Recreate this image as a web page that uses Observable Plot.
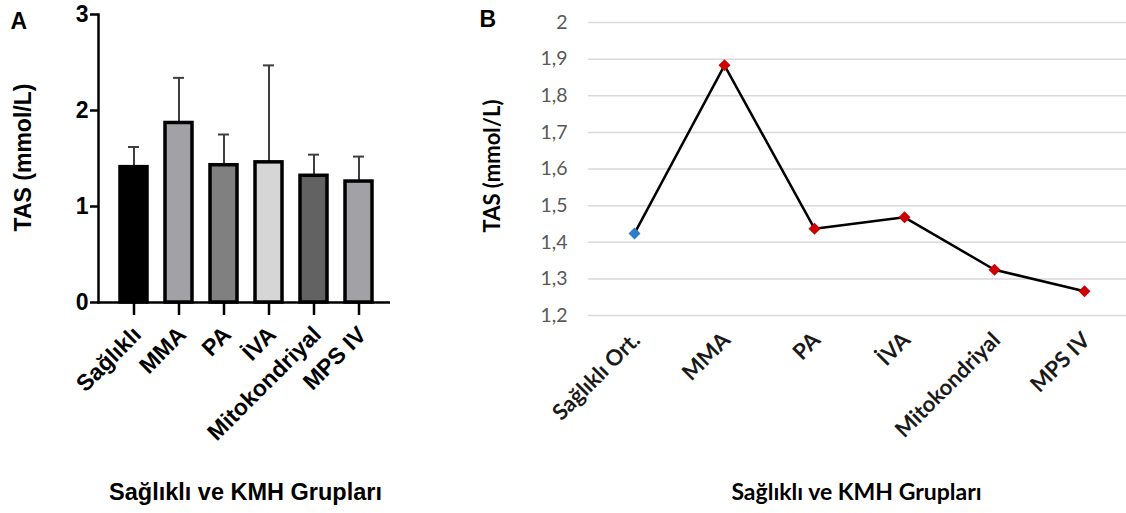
<!DOCTYPE html>
<html>
<head>
<meta charset="utf-8">
<script src="https://cdn.jsdelivr.net/npm/d3@7"></script>
<script src="https://cdn.jsdelivr.net/npm/@observablehq/plot@0.6"></script>
<style>
  html, body { margin: 0; padding: 0; background: #fff; }
  #wrap { display: flex; flex-direction: row; width: 1126px; height: 513px; }
  #wrap svg { display: block; }
</style>
</head>
<body>
<div id="wrap"></div>
<script>
// ---- Data (panel A: bar chart with upper error bars) ----
const categoriesA = ["Sağlıklı", "MMA", "PA", "İVA", "Mitokondriyal", "MPS IV"];
const barMeans = [1.41, 1.87, 1.43, 1.46, 1.32, 1.26];
const barUpper = [1.62, 2.34, 1.75, 2.47, 1.54, 1.52];
const yTicksA = [0, 1, 2, 3];

// ---- Data (panel B: line chart) ----
const categoriesB = ["Sağlıklı Ort.", "MMA", "PA", "İVA", "Mitokondriyal", "MPS IV"];
const lineMeans = [1.424, 1.883, 1.437, 1.468, 1.325, 1.266];
const yTicksB = [1.2, 1.3, 1.4, 1.5, 1.6, 1.7, 1.8, 1.9, 2];

// ---- Text ----
const yLabel = "TAS (mmol/L)";
const xTitle = "Sağlıklı ve KMH Grupları";

// ---- Styles ----
const barColors = ["#000000", "#a2a2a6", "#808080", "#d6d6d6", "#626262", "#a2a2a6"];
const healthyColor = "#2f7fc8";
const kmhColor = "#cc0000";

const tableA = categoriesA.map((c, i) => ({cat: c, mean: barMeans[i], upper: barUpper[i]}));
const tableB = categoriesB.map((c, i) => ({cat: c, tas: lineMeans[i], idx: i}));

const arial = "'Liberation Sans', Arial, Helvetica, sans-serif";

const plotA = Plot.plot({
  width: 470,
  height: 513,
  marginLeft: 98,
  marginRight: 80,
  marginTop: 14,
  marginBottom: 211,
  style: {fontFamily: arial, color: "#000", background: "#fff", overflow: "visible"},
  x: {type: "band", domain: categoriesA, range: [110.5, 380.5], paddingInner: 0.41, paddingOuter: 0.205, axis: null},
  y: {domain: [0, 3], axis: null},
  color: {domain: categoriesA, range: barColors},
  marks: [
    Plot.ruleX(tableA, {x: "cat", y1: "mean", y2: "upper", stroke: "#3f3f3f", strokeWidth: 2}),
    Plot.tickY(tableA, {x: "cat", y: "upper", stroke: "#3f3f3f", strokeWidth: 2, insetLeft: 8, insetRight: 8}),
    Plot.barY(tableA, {x: "cat", y: "mean", fill: "cat", stroke: "#000", strokeWidth: 3.5}),
    Plot.axisY({ticks: yTicksA, tickSize: 8, tickPadding: 2, fontSize: 23, fontWeight: "bold", strokeWidth: 2.5, tickFormat: d => String(d), label: null}),
    Plot.axisX({tickSize: 13, strokeWidth: 2.5, tickFormat: () => "", label: null}),
    Plot.ruleY([0], {strokeWidth: 2.5}),
    Plot.frame({anchor: "left", strokeWidth: 2.5}),
    Plot.text(categoriesA, {x: d => d, text: d => d, frameAnchor: "bottom", rotate: -45, textAnchor: "end", lineAnchor: "top", dx: -3, dy: 22, fontSize: 23, fontWeight: "bold", fill: "#000"}),
    Plot.text([yLabel], {frameAnchor: "left", rotate: -90, textAnchor: "middle", lineAnchor: "middle", dx: -75, dy: -1, fontSize: 23, fontWeight: "bold", fill: "#000"}),
    Plot.text([xTitle], {frameAnchor: "bottom-left", textAnchor: "middle", lineAnchor: "middle", dx: 147, dy: 190, fontSize: 23.5, fontWeight: "bold", fill: "#000"}),
    Plot.text(["A"], {frameAnchor: "top-left", textAnchor: "start", lineAnchor: "middle", dx: -88, dy: 7, fontSize: 23, fontWeight: 900, fill: "#000"})
  ]
});

const plotB = Plot.plot({
  width: 656,
  height: 513,
  marginLeft: 118,
  marginRight: 0,
  marginTop: 22,
  marginBottom: 198,
  style: {fontFamily: "Lato, 'Open Sans', sans-serif", color: "#000", background: "#fff", overflow: "visible"},
  x: {type: "point", domain: categoriesB, range: [163, 614], padding: 0, axis: null},
  y: {domain: [1.2, 2], axis: null},
  marks: [
    Plot.gridY(yTicksB, {stroke: "#d9d9d9", strokeOpacity: 1, strokeWidth: 1.5}),
    Plot.axisY({ticks: yTicksB, tickSize: 0, tickPadding: 21, fontSize: 19.5, fill: "#595959", tickFormat: d => String(d).replace(".", ","), label: null}),
    Plot.line(tableB, {x: "cat", y: "tas", stroke: "#000", strokeWidth: 2.5}),
    Plot.dot(tableB, {x: "cat", y: "tas", symbol: "square", rotate: 45, r: 4.8, fill: d => d.idx === 0 ? healthyColor : kmhColor, stroke: "none"}),
    Plot.text(categoriesB, {x: d => d, text: d => d, frameAnchor: "bottom", rotate: -45, textAnchor: "end", lineAnchor: "top", dx: -4, dy: 15, fontSize: 22, fontWeight: "bold", fill: "#1a1a1a"}),
    Plot.text([yLabel], {frameAnchor: "left", rotate: -90, textAnchor: "middle", lineAnchor: "middle", dx: -96, dy: -3, fontSize: 22, fontWeight: "bold", fill: "#000"}),
    Plot.text([xTitle], {frameAnchor: "bottom-left", textAnchor: "middle", lineAnchor: "middle", dx: 268, dy: 177, fontSize: 23, fontWeight: "bold", fill: "#000"}),
    Plot.text(["B"], {frameAnchor: "top-left", textAnchor: "start", lineAnchor: "middle", dx: -109, dy: -3, fontSize: 23, fontFamily: arial, fontWeight: 900, fill: "#000"})
  ]
});

const wrap = document.getElementById("wrap");
wrap.appendChild(plotA);
wrap.appendChild(plotB);
</script>
</body>
</html>
